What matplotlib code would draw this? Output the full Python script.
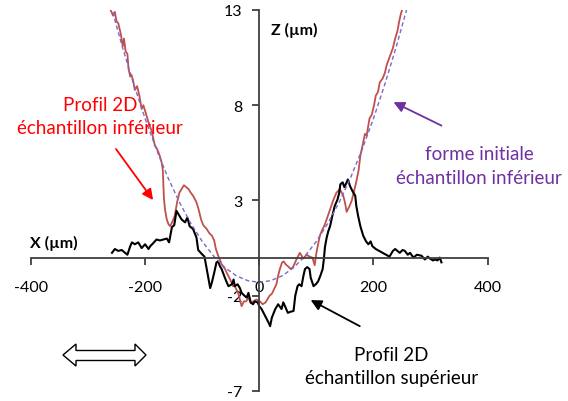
import matplotlib.pyplot as plt
from matplotlib.patches import Polygon

plt.rcParams['font.family'] = ['Lato', 'DejaVu Sans']
plt.rcParams['axes.unicode_minus'] = False

# DATA
x_ticks = [-400, -200, 0, 200, 400]
z_ticks = [-7, -2, 3, 8, 13]

# initial shape of the lower sample (dashed)
forme_x = [-260, -240, -220, -200, -180, -160, -140, -120, -100, -80, -60, -40, -20, 0,
           20, 40, 60, 80, 100, 120, 140, 160, 180, 200, 220, 240, 260]
forme_z = [13.23, 11.08, 9.11, 7.30, 5.67, 4.20, 2.91, 1.80, 0.85, 0.08, -0.53, -0.96, -1.21, -1.30,
           -1.21, -0.96, -0.53, 0.08, 0.85, 1.80, 2.91, 4.20, 5.67, 7.30, 9.11, 11.08, 13.23]

# 2D profile, lower sample (red)
inf_x = [-262, -256, -253, -250, -247, -243, -239, -237, -234, -231, -229, -226, -224, -221,
         -218, -214, -210, -206, -203, -198, -194, -188, -186, -183, -179, -175, -171, -169,
         -168, -167, -165, -162, -159, -156, -152, -148, -144, -140, -136, -132, -128, -124,
         -120, -116, -110, -106, -102, -98, -92, -88, -83, -79, -76, -72, -69, -66, -60, -57,
         -51, -46, -43, -37, -34, -31, -27, -23, -19, -15, -11, -5, 1, 6, 11, 14, 18, 22, 26,
         30, 33, 36, 40, 43, 46, 50, 55, 59, 65, 71, 77, 83, 88, 93, 97, 100, 106, 111, 115,
         119, 124, 130, 135, 141, 147, 150, 153, 158, 162, 166, 170, 174, 177, 182, 185, 188,
         193, 197, 201, 204, 208, 211, 216, 220, 223, 229, 234, 238, 242, 245, 248, 251]
inf_z = [13.1, 12.7, 12.9, 12.4, 12.3, 11.8, 11.1, 11.5, 10.8, 10.7, 9.9, 9.5, 9.6, 9.3,
         8.8, 9.0, 8.5, 7.8, 8.0, 7.5, 7.1, 6.6, 6.3, 5.9, 5.7, 5.4, 5.0, 4.6,
         3.8, 3.1, 2.5, 2.0, 1.75, 1.65, 1.9, 2.2, 2.9, 3.4, 3.6, 3.8, 3.7, 3.6,
         3.4, 3.25, 2.9, 2.5, 2.0, 1.7, 1.5, 1.3, 1.15, 0.9, 0.45, 0.1, -0.1, -0.35, -0.6, -0.8,
         -1.15, -1.5, -1.5, -1.85, -2.2, -2.55, -2.3, -2.3, -2.1, -2.4, -2.3, -2.2, -2.3, -2.45,
         -2.35, -2.2, -2.0, -1.9, -1.65, -1.4, -0.95, -0.6, -0.25, -0.2, -0.35, -0.45, -0.6,
         -0.5, -0.1, 0.25, -0.05, 0.15, 0.05, 0.0, -0.4, 0.25, 1.15, 1.5, 1.75,
         2.1, 2.55, 3.05, 3.4, 3.6, 3.25, 2.9, 2.4, 2.7, 3.0, 3.5, 4.0, 4.6, 5.35, 6.05, 6.5, 6.4,
         7.3, 7.5, 8.0, 8.5, 8.7, 9.2, 9.4, 9.7, 10.1, 10.6, 11.0, 11.5, 11.9, 12.4, 12.8, 13.1]

# 2D profile, upper sample (black)
sup_x = [-258, -253, -247, -241, -235, -231, -226, -223, -218, -212, -206, -200, -194, -191,
         -186, -180, -174, -168, -162, -158, -153, -149, -145, -140, -136, -130, -126, -122,
         -116, -110, -107, -101, -96, -92, -86, -83, -79, -75, -72, -69, -66, -61, -57, -54,
         -48, -45, -43, -38, -34, -31, -26, -22, -19, -15, -11, -8, -3, 0, 4, 10, 16, 19, 22,
         28, 33, 39, 42, 45, 50, 54, 60, 63, 67, 70, 74, 77, 80, 84, 88, 90, 95, 99, 103, 107,
         111, 113, 115, 118, 121, 124, 128, 132, 137, 140, 142, 146, 149, 153, 155, 159, 163,
         168, 170, 173, 177, 182, 187, 191, 195, 198, 204, 210, 216, 222, 228, 234, 238, 246,
         251, 255, 260, 264, 270, 276, 284, 290, 295, 299, 304, 308, 312, 316, 319]
sup_z = [0.25, 0.45, 0.35, 0.4, 0.25, 0.15, 0.6, 0.8, 0.7, 0.8, 0.5, 0.7, 0.45, 0.6,
         0.75, 0.95, 0.9, 0.95, 1.0, 0.8, 1.6, 1.7, 2.45, 2.2, 2.0, 1.85, 2.1, 1.65,
         1.5, 1.05, 0.4, 0.2, 0.05, -0.6, -1.6, -1.3, -0.8, -0.25, -0.2, -0.45, -0.6, -1.0, -1.3, -1.5,
         -1.4, -1.15, -1.5, -1.4, -1.6, -1.85, -2.0, -2.1, -1.85, -2.35, -2.45, -2.3, -2.35, -2.55,
         -2.7, -3.05, -3.4, -3.6, -3.15, -2.7, -2.45, -2.7, -2.35, -2.55, -2.9, -2.85, -2.8, -2.0,
         -1.5, -1.4, -1.5, -1.0, -0.6, -0.5, -0.6, -1.05, -1.5, -1.4, -1.25, -0.95,
         -0.6, -0.1, 0.55, 1.05, 1.4, 1.65, 2.2, 2.7, 3.05, 3.4, 3.85, 3.95, 3.7, 3.95, 4.1, 3.75, 3.5,
         3.25, 2.7, 2.2, 1.65, 1.15, 0.85, 0.7, 0.85, 0.6, 0.45, 0.35, 0.25, 0.15, 0.05, 0.35, 0.45, 0.25,
         0.4, 0.35, 0.15, 0.25, 0.0, 0.15, 0.1, -0.1, 0.05, -0.05, -0.15, -0.1, -0.15, 0.0, -0.25]

# FIGURE
W, H = 568, 402
fig = plt.figure(figsize=(W / 100, H / 100), dpi=100)
ax = fig.add_axes([0.0544, 0.025, 0.8042, 0.9478])

ax.plot(inf_x, inf_z, color='#C0504D', lw=1.3)
ax.plot(sup_x, sup_z, color='black', lw=1.5)
ax.plot(forme_x, forme_z, color='#7B68C8', lw=1.0, ls=(0, (3, 2)))

ax.set_xlim(-400, 400)
ax.set_ylim(-7, 13)

# AXES THROUGH THE ORIGIN
ax.spines['left'].set_position(('data', 0))
ax.spines['bottom'].set_position(('data', 0))
ax.spines['top'].set_visible(False)
ax.spines['right'].set_visible(False)
for s in ['left', 'bottom']:
    ax.spines[s].set_color('#404040')
    ax.spines[s].set_linewidth(1.3)

ax.set_xticks(x_ticks)
ax.set_yticks(z_ticks)
ax.tick_params(direction='out', length=5, width=1.3, color='#404040',
               labelsize=11.5, labelcolor='black')
ax.tick_params(axis='x', pad=11)
ax.tick_params(axis='y', pad=7)

ax.text(-359, 0.8, 'X (µm)', fontsize=11.5, fontweight='bold', ha='center', va='center')
ax.text(61, 12.0, 'Z (µm)', fontsize=11.5, fontweight='bold', ha='center', va='center')

# ANNOTATIONS
ax.text(-279, 7.43, 'Profil 2D\néchantillon inférieur', color='#FF0000', fontsize=13.5,
        ha='center', va='center', linespacing=1.45)
ax.annotate('', xy=(-186, 3.02), xytext=(-251, 5.7),
            arrowprops=dict(arrowstyle='-|>', color='#FF0000', lw=1.3,
                            mutation_scale=16, shrinkA=0, shrinkB=0))

ax.text(385, 4.83, 'forme initiale\néchantillon inférieur', color='#7030A0', fontsize=13.5,
        ha='center', va='center', linespacing=1.45)
ax.annotate('', xy=(235, 8.16), xytext=(319, 6.93),
            arrowprops=dict(arrowstyle='-|>', color='#7030A0', lw=1.3,
                            mutation_scale=16, shrinkA=0, shrinkB=0))

ax.text(231, -5.69, 'Profil 2D\néchantillon supérieur', color='black', fontsize=13.5,
        ha='center', va='center', linespacing=1.45)
ax.annotate('', xy=(90, -2.23), xytext=(176, -3.6),
            arrowprops=dict(arrowstyle='-|>', color='black', lw=1.3,
                            mutation_scale=16, shrinkA=0, shrinkB=0))

# HOLLOW DOUBLE ARROW (pixel outline, bottom left)
darrow_px = [(63, 356), (76, 345), (76, 351.5), (135, 351.5), (135, 345), (146, 356),
             (135, 367), (135, 361.5), (76, 361.5), (76, 367)]
darrow = Polygon([(px / W, 1 - py / H) for px, py in darrow_px], closed=True,
                 transform=fig.transFigure, facecolor='white', edgecolor='black', lw=1.0)
fig.add_artist(darrow)

fig.savefig('out.png', dpi=100)
